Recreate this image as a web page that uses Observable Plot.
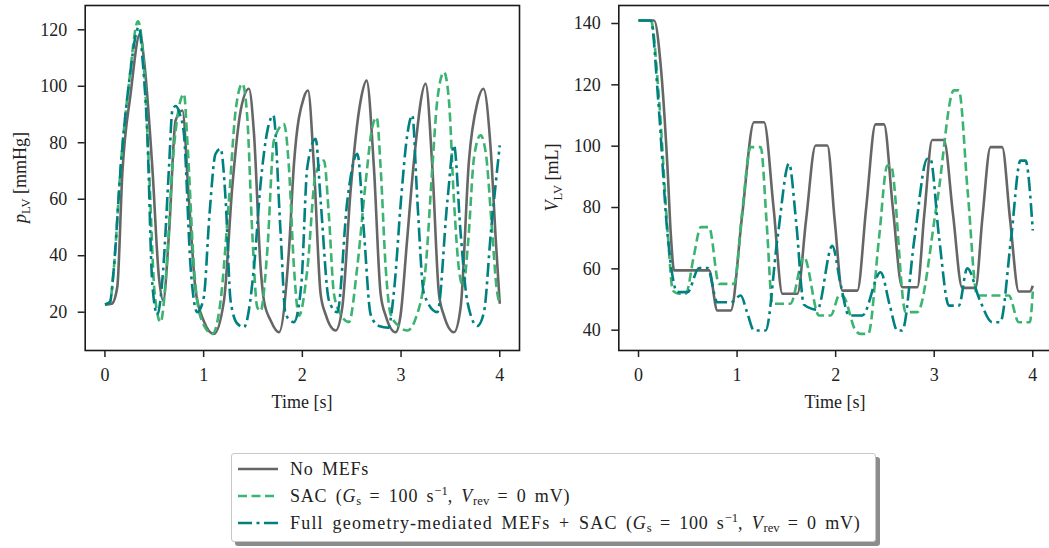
<!DOCTYPE html>
<html>
<head>
<meta charset="utf-8">
<script src="https://cdn.jsdelivr.net/npm/d3@7"></script>
<script src="https://cdn.jsdelivr.net/npm/@observablehq/plot@0.6"></script>
<style>
  html, body { margin:0; padding:0; background:#fff; overflow:hidden; }
  #wrap { position:relative; width:1049px; height:548px; overflow:hidden; font-family:'Liberation Serif', serif; color:#222; }
  .panel { position:absolute; top:0; width:530px; height:420px; }
  .panel svg { max-width:none !important; width:530px !important; height:420px !important; }
  #legend { position:absolute; left:231px; top:453px; width:643px; height:87px; border:1px solid #c8c8c8; border-radius:3px; background:#fff; box-shadow:4px 4px 0 #8c8c8c; }
  .row { position:absolute; left:0; height:26px; display:flex; align-items:center; font-size:18px; white-space:nowrap; letter-spacing:0.8px; word-spacing:3px; }
  .row svg { margin-left:6px; margin-right:12px; }
  .wide { letter-spacing:1.2px; }
  sub { font-size:70%; vertical-align:-0.25em; line-height:0; letter-spacing:0; }
  sup { font-size:70%; vertical-align:0.55em; line-height:0; letter-spacing:0; }
  svg text { font-family:'Liberation Serif', serif; }
</style>
</head>
<body>
<div id="wrap">
  <div id="left" class="panel" style="left:0"></div>
  <div id="right" class="panel" style="left:530px"></div>
  <div id="legend"></div>
</div>
<script>
// ---------- data ----------
const xTicks = [0, 1, 2, 3, 4];
const pTicks = [20, 40, 60, 80, 100, 120];
const vTicks = [40, 60, 80, 100, 120, 140];

const seriesNames = ["No MEFs", "SAC", "Full"];
const seriesColors = ["#666666", "#3cb371", "#008080"];

// Left: LV pressure [mmHg]
const pT_none = [0, 0.07, 0.125, 0.176, 0.26, 0.355, 0.395, 0.48, 0.547, 0.59, 0.649, 0.716, 0.784, 0.851, 0.919, 1.0, 1.104, 1.206, 1.29, 1.375, 1.459, 1.51, 1.577, 1.611, 1.68, 1.763, 1.864, 1.915, 2.016, 2.057, 2.118, 2.185, 2.236, 2.337, 2.405, 2.489, 2.591, 2.651, 2.725, 2.793, 2.844, 2.945, 2.996, 3.06, 3.131, 3.249, 3.317, 3.384, 3.435, 3.536, 3.604, 3.688, 3.772, 3.834, 3.909, 3.96, 4.0];
const pV_none = [22.7, 23, 28.9, 69, 97.3, 118.6, 109.7, 71.3, 32.4, 24.1, 47.8, 87.9, 91.4, 59.6, 27.7, 17, 12.3, 24.1, 64.3, 91.4, 99.1, 83.2, 35.9, 24.1, 17, 12.9, 41.8, 72.5, 96.1, 98.5, 71.3, 26.5, 19.2, 13.5, 21.8, 63.1, 95, 102, 71.3, 26.5, 18.8, 12.9, 19.2, 45, 73.7, 100.9, 71.3, 26.5, 18.8, 12.9, 21.8, 73.7, 94, 99.1, 77.3, 45.4, 23];

const pT_sac = [0, 0.05, 0.091, 0.159, 0.243, 0.335, 0.395, 0.446, 0.504, 0.564, 0.625, 0.683, 0.75, 0.80, 0.84, 0.902, 0.969, 1.088, 1.172, 1.256, 1.324, 1.392, 1.442, 1.493, 1.543, 1.577, 1.645, 1.712, 1.814, 1.864, 1.915, 1.966, 2.05, 2.135, 2.219, 2.27, 2.32, 2.388, 2.472, 2.556, 2.64, 2.708, 2.753, 2.793, 2.844, 2.895, 2.98, 3.064, 3.15, 3.249, 3.317, 3.367, 3.435, 3.485, 3.536, 3.587, 3.63, 3.68, 3.74, 3.806, 3.86, 3.92, 3.97, 4.0];
const pV_sac = [22.7, 23.5, 35.9, 71.3, 100.9, 123, 106.8, 71.3, 26.5, 16.5, 35.9, 71.3, 92.6, 97.3, 77.3, 35.9, 18.2, 12.3, 24.1, 59.6, 91.4, 100.9, 89, 47.8, 21.8, 20.4, 41.8, 80.8, 86.6, 71.3, 35.9, 18.8, 35, 69, 73.7, 53.6, 26.5, 19.2, 16.5, 35.9, 65.5, 85.4, 89, 71.3, 35.9, 19.2, 15, 13.5, 18, 35.9, 71.3, 95, 105, 95, 59.6, 35, 29, 45, 75, 82.6, 76, 50, 28, 23];

const pT_full = [0, 0.05, 0.091, 0.159, 0.243, 0.345, 0.38, 0.429, 0.48, 0.53, 0.59, 0.649, 0.683, 0.716, 0.76, 0.80, 0.868, 0.936, 1.0, 1.06, 1.12, 1.172, 1.223, 1.273, 1.34, 1.408, 1.51, 1.577, 1.65, 1.706, 1.78, 1.83, 1.915, 1.99, 2.05, 2.135, 2.185, 2.27, 2.354, 2.456, 2.557, 2.625, 2.692, 2.776, 2.87, 2.93, 3.0, 3.06, 3.114, 3.165, 3.232, 3.368, 3.47, 3.536, 3.604, 3.67, 3.773, 3.84, 3.909, 4.0];
const pV_full = [22.7, 23.5, 36, 71, 101, 121, 110, 83.2, 30, 19.2, 35, 71.3, 91.4, 93, 90, 83.2, 35.9, 20, 25, 55, 76, 77.9, 59.6, 24.1, 16, 14.7, 35.9, 65.5, 85, 89.7, 47.8, 19.2, 16.5, 30, 71.3, 81.4, 59.6, 24.1, 20, 59.6, 76.1, 47.8, 19.2, 15.1, 14.5, 28, 60, 82, 89.7, 59.6, 26.5, 20, 59.6, 79.1, 47.8, 24.1, 15.1, 20, 47.8, 79.1];

// Right: LV volume [mL]
const vT_none = [0, 0.158, 0.226, 0.294, 0.33, 0.361, 0.716, 0.80, 0.936, 1.05, 1.172, 1.273, 1.37, 1.46, 1.612, 1.70, 1.797, 1.916, 1.99, 2.068, 2.22, 2.31, 2.405, 2.49, 2.58, 2.676, 2.828, 2.90, 2.98, 3.098, 3.19, 3.284, 3.419, 3.49, 3.571, 3.689, 3.77, 3.858, 3.97, 4.0];
const vV_none = [141, 141, 126, 93, 70, 59.5, 59.5, 46.4, 46.4, 77, 107.8, 107.8, 80, 51.9, 51.9, 76, 100.2, 100.2, 76, 52.9, 52.9, 80, 107.1, 107.1, 80, 54, 54, 78, 102, 102, 78, 53.8, 53.8, 77, 99.7, 99.7, 76, 52.6, 52.6, 54.5];

const vT_sac = [0, 0.125, 0.209, 0.30, 0.348, 0.41, 0.48, 0.56, 0.632, 0.716, 0.817, 0.97, 1.05, 1.138, 1.24, 1.30, 1.358, 1.54, 1.679, 1.831, 1.95, 2.04, 2.08, 2.2, 2.25, 2.33, 2.44, 2.524, 2.56, 2.71, 2.828, 3.03, 3.2, 3.25, 3.34, 3.436, 3.757, 3.858, 3.97, 4.0];
const vV_sac = [141, 141, 114.9, 70, 52.9, 51.9, 51.9, 64, 73.6, 73.6, 55.1, 55.1, 78, 99.7, 99.7, 75, 48.6, 48.6, 63.8, 44.8, 44.8, 51.5, 51, 40, 38.8, 38.8, 70, 93.7, 93.7, 45.9, 45.9, 82, 118.2, 118.2, 85, 51.3, 51.3, 42.6, 42.6, 52.6];

const vT_full = [0, 0.125, 0.2, 0.294, 0.395, 0.497, 0.614, 0.70, 0.80, 0.936, 1.037, 1.10, 1.172, 1.29, 1.41, 1.527, 1.60, 1.679, 1.814, 1.966, 2.05, 2.135, 2.27, 2.456, 2.55, 2.625, 2.676, 2.80, 2.93, 2.96, 3.05, 3.149, 3.25, 3.335, 3.46, 3.588, 3.67, 3.78, 3.875, 3.926, 4.0];
const vV_full = [141, 141, 115, 71.4, 52.4, 52.4, 60.3, 60.3, 49.1, 49.1, 51.3, 46, 39.9, 39.9, 70, 94.3, 75, 48.3, 46.7, 67.5, 55, 44.8, 44.8, 58.9, 48, 39.9, 39.9, 70, 95.9, 95.9, 70, 48, 48, 60.2, 50, 42.6, 42.6, 70, 95.3, 95.3, 72.5];

// ---------- build ----------
const FONT = "'Liberation Serif', serif";
const dashes = [null, "9,4.5", "14,4.5,3,4.5"];
const zip = (ts, vs) => ts.map((t, i) => ({t, v: vs[i]}));

function panel(series, yDomain, yTicks, marginLeft, marginRight) {
  return Plot.plot({
    width: 530, height: 420,
    marginLeft, marginRight, marginTop: 5, marginBottom: 70,
    x: {domain: [-0.2, 4.2]},
    y: {domain: yDomain},
    style: {fontFamily: FONT, fontSize: "18px", color: "#222", background: "transparent", overflow: "visible", maxWidth: "none"},
    marks: [
      Plot.axisX({ticks: xTicks, tickSize: 7, tickPadding: 11, label: null, tickFormat: d => String(d), strokeWidth: 1.5, fontFamily: FONT}),
      Plot.axisY({ticks: yTicks, tickSize: 7, tickPadding: 11, label: null, tickFormat: d => String(d), strokeWidth: 1.5, fontFamily: FONT}),
      ...series.map((s, i) => Plot.line(s, {x: "t", y: "v", stroke: seriesColors[i], strokeWidth: 2.6,
        strokeDasharray: dashes[i], strokeLinecap: "butt", curve: "monotone-x"})),
      Plot.frame({stroke: "#1a1a1a", strokeWidth: 1.6})
    ]
  });
}

const left = panel([zip(pT_none, pV_none), zip(pT_sac, pV_sac), zip(pT_full, pV_full)], [6.44, 128.6], pTicks, 84.7, 11);
const right = panel([zip(vT_none, vV_none), zip(vT_sac, vV_sac), zip(vT_full, vV_full)], [33.38, 145.87], vTicks, 88.3, 8);
document.getElementById("left").appendChild(left);
document.getElementById("right").appendChild(right);

function addLabels(svg, cx, ylabX, sym, sub, unit) {
  const s = d3.select(svg);
  s.append("text").attr("x", cx).attr("y", 408).attr("text-anchor", "middle")
    .attr("font-size", 18).attr("fill", "#222").text("Time [s]");
  const t = s.append("text").attr("transform", `translate(${ylabX},177.5) rotate(-90)`)
    .attr("text-anchor", "middle").attr("font-size", 18).attr("fill", "#222");
  t.append("tspan").attr("font-style", "italic").text(sym);
  t.append("tspan").attr("font-size", 12.5).attr("dy", 4).text(sub);
  t.append("tspan").attr("dy", -4).text(" " + unit);
  s.selectAll("text").style("font-family", FONT);
}
addLabels(left, 302, 26, "p", "LV", "[mmHg]");
addLabels(right, 305, 28, "V", "LV", "[mL]");

// legend
const legendTexts = [
  "No MEFs",
  "SAC (<i>G</i><sub>s</sub> = 100 s<sup>−1</sup>, <i>V</i><sub>rev</sub> = 0 mV)",
  "<span class='wide'>Full geometry-mediated MEFs + SAC</span> (<i>G</i><sub>s</sub> = 100 s<sup>−1</sup>, <i>V</i><sub>rev</sub> = 0 mV)"
];
const leg = document.getElementById("legend");
legendTexts.forEach((txt, i) => {
  const row = document.createElement("div");
  row.className = "row";
  row.style.top = (2 + i * 27) + "px";
  row.innerHTML = `<svg width="40" height="10"><line x1="0" x2="40" y1="5" y2="5" stroke="${seriesColors[i]}" stroke-width="2.6" ${dashes[i] ? `stroke-dasharray="${dashes[i]}"` : ""}/></svg><span>${txt}</span>`;
  leg.appendChild(row);
});
</script>
</body>
</html>
